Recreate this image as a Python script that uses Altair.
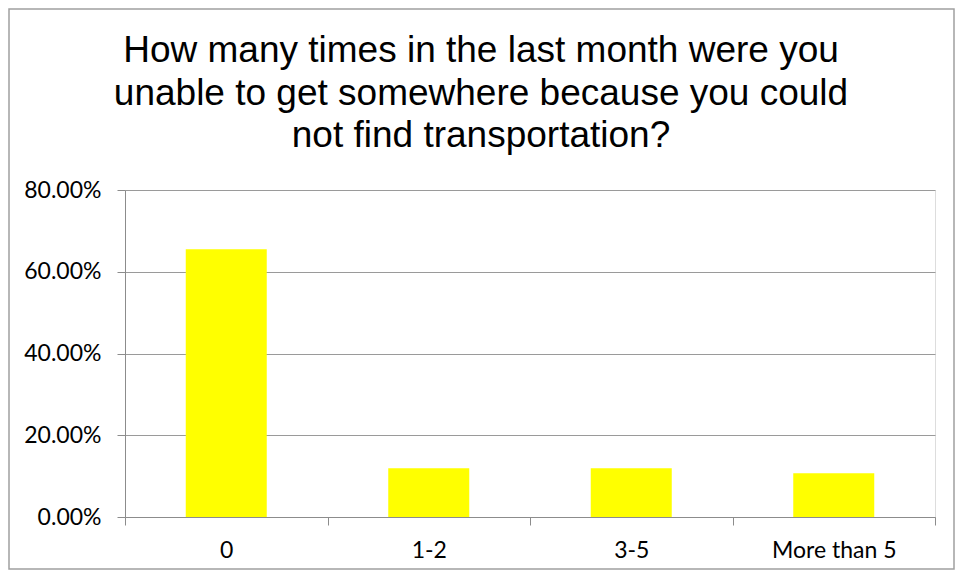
import altair as alt
import pandas as pd

categories = ["0", "1-2", "3-5", "More than 5"]
values = [0.655, 0.119, 0.119, 0.107]
title_lines = [
    "How many times in the last month were you",
    "unable to get somewhere because you could",
    "not find transportation?",
]

df = pd.DataFrame({"cat": categories, "val": values})
title_df = pd.DataFrame({"t": [title_lines]})

x_enc = alt.X(
    "cat:N",
    sort=categories,
    title=None,
    scale=alt.Scale(paddingInner=0, paddingOuter=0),
    axis=alt.Axis(
        labelAngle=0,
        labelFont="Lato",
        labelFontSize=23,
        labelColor="#000000",
        labelPadding=14,
        tickBand="extent",
        tickSize=8,
        tickColor="#8c8c8c",
        domainColor="#8c8c8c",
        grid=False,
    ),
)
y_enc = alt.Y(
    "val:Q",
    title=None,
    scale=alt.Scale(domain=[0, 0.8], nice=False),
    axis=alt.Axis(
        values=[0, 0.2, 0.4, 0.6, 0.8],
        format=".2%",
        labelFont="Lato",
        labelFontSize=23,
        labelColor="#000000",
        labelPadding=16,
        tickSize=8,
        tickColor="#8c8c8c",
        domainColor="#8c8c8c",
        gridColor="#9a9a9a",
        gridWidth=1,
    ),
)

bars = alt.Chart(df).mark_bar(
    color="#FFFF00", width=alt.RelativeBandSize(0.4)
).encode(x=x_enc, y=y_enc)

frame = alt.Chart(df.head(1)).mark_rect(
    fill=None, stroke="#a0a0a0", strokeWidth=1.5, clip=False
).encode(
    x=alt.value(-116),
    x2=alt.value(829),
    y=alt.value(-181),
    y2=alt.value(379),
)

title = alt.Chart(title_df).mark_text(
    font="Liberation Sans",
    fontSize=37,
    color="#000000",
    align="center",
    baseline="alphabetic",
    lineHeight=42.5,
).encode(
    text="t",
    x=alt.value(356),
    y=alt.value(-128),
)

chart = (
    alt.layer(frame, bars, title)
    .properties(
        width=810,
        height=327,
        padding={"left": 117, "top": 182, "right": 20, "bottom": 53},
        autosize=alt.AutoSizeParams(type="none"),
    )
    .configure_view(stroke=None)
    .configure(background="#ffffff")
)

chart.save("out.html", embed_options={"renderer": "svg", "actions": False})
